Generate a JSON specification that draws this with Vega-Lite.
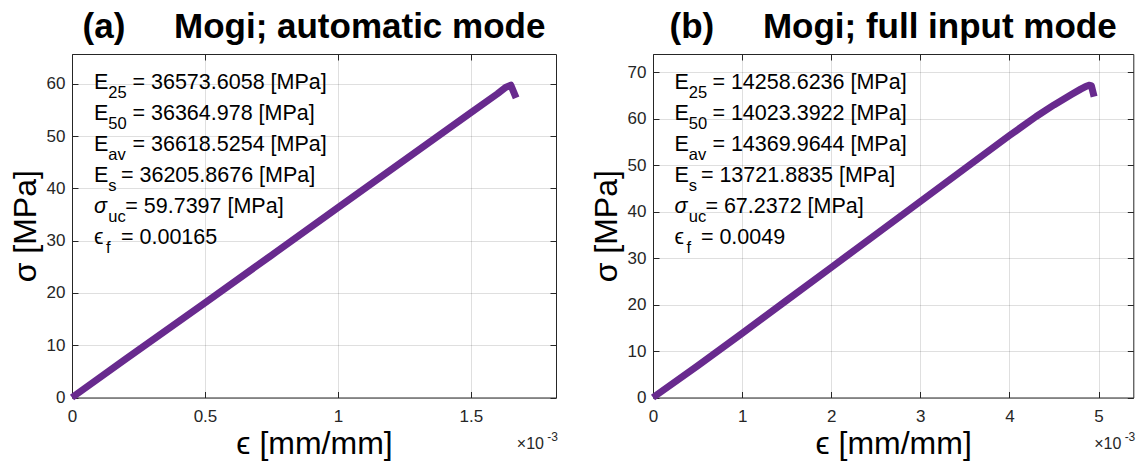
{
  "$schema": "https://vega.github.io/schema/vega-lite/v6.json",
  "background": "white",
  "padding": {"left": 8, "top": 9, "right": 4, "bottom": 0},
  "spacing": 30,
  "config": {
    "font": "Liberation Sans",
    "view": {"stroke": "#262626", "strokeWidth": 1},
    "axis": {
      "domain": false,
      "grid": true,
      "gridColor": "#262626",
      "gridOpacity": 0.15,
      "gridWidth": 1,
      "tickColor": "#262626",
      "tickSize": -6,
      "labelPadding": 13,
      "labelColor": "#262626",
      "labelFontSize": 17,
      "labelFlush": false,
      "labelOverlap": false,
      "titleFontSize": 32,
      "titleFontWeight": "normal",
      "titleColor": "#000000",
      "titleFont": "Liberation Sans"
    },
    "title": {"fontSize": 35, "fontWeight": "bold", "color": "#000000", "anchor": "middle", "offset": 9, "font": "Liberation Sans"},
    "text": {"color": "#000000", "align": "left", "baseline": "alphabetic"}
  },
  "datasets": {
    "curveA": [
      {"strain": 0, "stress": 0},
      {"strain": 0.0002, "stress": 7.3},
      {"strain": 0.0005, "stress": 18.1},
      {"strain": 0.00075, "stress": 27.2},
      {"strain": 0.001, "stress": 36.3},
      {"strain": 0.00125, "stress": 45.4},
      {"strain": 0.0015, "stress": 54.5},
      {"strain": 0.0016, "stress": 58.1},
      {"strain": 0.00163, "stress": 59.3},
      {"strain": 0.00165, "stress": 59.74},
      {"strain": 0.00167, "stress": 57.3}
    ],
    "curveB": [
      {"strain": 0, "stress": 0},
      {"strain": 0.0005, "stress": 6.8},
      {"strain": 0.001, "stress": 13.8},
      {"strain": 0.0015, "stress": 20.9},
      {"strain": 0.002, "stress": 28.0},
      {"strain": 0.0025, "stress": 35.1},
      {"strain": 0.003, "stress": 42.2},
      {"strain": 0.0035, "stress": 49.3},
      {"strain": 0.004, "stress": 56.4},
      {"strain": 0.0043, "stress": 60.5},
      {"strain": 0.0045, "stress": 63.0},
      {"strain": 0.0047, "stress": 65.3},
      {"strain": 0.0048, "stress": 66.4},
      {"strain": 0.00486, "stress": 67.0},
      {"strain": 0.0049, "stress": 67.24},
      {"strain": 0.00492, "stress": 67.1},
      {"strain": 0.00495, "stress": 64.8}
    ],
    "textA": [
      {"line": 1, "sym": "E", "sub": "25", "rest": "= 36573.6058 [MPa]"},
      {"line": 2, "sym": "E", "sub": "50", "rest": "= 36364.978 [MPa]"},
      {"line": 3, "sym": "E", "sub": "av", "rest": "= 36618.5254 [MPa]"},
      {"line": 4, "sym": "E", "sub": "s", "rest": "= 36205.8676 [MPa]"},
      {"line": 5, "sym": "σ", "sub": "uc", "rest": "= 59.7397 [MPa]"},
      {"line": 6, "sym": "ϵ", "sub": "f", "rest": "= 0.00165"}
    ],
    "textB": [
      {"line": 1, "sym": "E", "sub": "25", "rest": "= 14258.6236 [MPa]"},
      {"line": 2, "sym": "E", "sub": "50", "rest": "= 14023.3922 [MPa]"},
      {"line": 3, "sym": "E", "sub": "av", "rest": "= 14369.9644 [MPa]"},
      {"line": 4, "sym": "E", "sub": "s", "rest": "= 13721.8835 [MPa]"},
      {"line": 5, "sym": "σ", "sub": "uc", "rest": "= 67.2372 [MPa]"},
      {"line": 6, "sym": "ϵ", "sub": "f", "rest": "= 0.0049"}
    ]
  },
  "hconcat": [
    {
      "width": 484,
      "height": 343.5,
      "title": {"text": "(a)\u00a0\u00a0\u00a0\u00a0\u00a0Mogi; automatic mode"},
      "resolve": {"scale": {"y": "independent"}, "axis": {"x": "independent", "y": "independent"}},
      "layer": [
        {
          "data": {"name": "curveA"},
          "mark": {"type": "line", "color": "#682a8e", "strokeWidth": 7, "strokeCap": "butt", "strokeJoin": "round", "clip": false},
          "encoding": {
            "x": {"field": "strain", "type": "quantitative", "scale": {"domain": [0, 0.00182], "nice": false},
              "axis": {"values": [0, 0.0005, 0.001, 0.0015], "labelExpr": "format(datum.value*1000, '.1~f')", "title": "ϵ [mm/mm]", "labelPadding": 17, "titlePadding": 4}},
            "y": {"field": "stress", "type": "quantitative", "scale": {"domain": [0, 65.7], "nice": false},
              "axis": {"values": [0, 10, 20, 30, 40, 50, 60], "title": "σ [MPa]", "titlePadding": 4}}
          }
        },
        {
          "data": {"name": "curveA"},
          "mark": {"type": "line", "opacity": 0},
          "encoding": {
            "x": {"field": "strain", "type": "quantitative", "scale": {"domain": [0, 0.00182], "nice": false},
              "axis": {"orient": "top", "values": [0, 0.0005, 0.001, 0.0015], "labels": false, "grid": false, "title": null}},
            "y": {"field": "stress", "type": "quantitative", "scale": {"domain": [0, 65.7], "nice": false},
              "axis": {"orient": "right", "values": [0, 10, 20, 30, 40, 50, 60], "labels": false, "grid": false, "title": null}}
          }
        },
        {
          "data": {"name": "textA"},
          "transform": [{"filter": "datum.line != 5"}],
          "mark": {"type": "text", "fontSize": 21.5},
          "encoding": {
            "x": {"datum": 0.0000826, "type": "quantitative", "axis": null},
            "y": {"field": "line", "type": "quantitative", "scale": {"domain": [-0.139, 10.942], "reverse": true}, "axis": null},
            "text": {"field": "sym"}
          }
        },
        {
          "data": {"name": "textA"},
          "transform": [{"filter": "datum.line == 5"}],
          "mark": {"type": "text", "fontSize": 21.5, "fontStyle": "italic"},
          "encoding": {
            "x": {"datum": 0.0000826, "type": "quantitative", "axis": null},
            "y": {"field": "line", "type": "quantitative", "scale": {"domain": [-0.139, 10.942], "reverse": true}, "axis": null},
            "text": {"field": "sym"}
          }
        },
        {
          "data": {"name": "textA"},
          "transform": [{"filter": "datum.line != 6"}],
          "mark": {"type": "text", "fontSize": 16.5, "dx": 14.4, "dy": 8.4},
          "encoding": {
            "x": {"datum": 0.0000826, "type": "quantitative", "axis": null},
            "y": {"field": "line", "type": "quantitative", "scale": {"domain": [-0.139, 10.942], "reverse": true}, "axis": null},
            "text": {"field": "sub"}
          }
        },
        {
          "data": {"name": "textA"},
          "transform": [{"filter": "datum.line == 6"}],
          "mark": {"type": "text", "fontSize": 16.5, "dx": 12, "dy": 8.4},
          "encoding": {
            "x": {"datum": 0.0000826, "type": "quantitative", "axis": null},
            "y": {"field": "line", "type": "quantitative", "scale": {"domain": [-0.139, 10.942], "reverse": true}, "axis": null},
            "text": {"field": "sub"}
          }
        },
        {
          "data": {"name": "textA"},
          "transform": [{"filter": "datum.line <= 3"}],
          "mark": {"type": "text", "fontSize": 21.5, "dx": 38.5},
          "encoding": {
            "x": {"datum": 0.0000826, "type": "quantitative", "axis": null},
            "y": {"field": "line", "type": "quantitative", "scale": {"domain": [-0.139, 10.942], "reverse": true}, "axis": null},
            "text": {"field": "rest"}
          }
        },
        {
          "data": {"name": "textA"},
          "transform": [{"filter": "datum.line == 4 || datum.line == 6"}],
          "mark": {"type": "text", "fontSize": 21.5, "dx": 27},
          "encoding": {
            "x": {"datum": 0.0000826, "type": "quantitative", "axis": null},
            "y": {"field": "line", "type": "quantitative", "scale": {"domain": [-0.139, 10.942], "reverse": true}, "axis": null},
            "text": {"field": "rest"}
          }
        },
        {
          "data": {"name": "textA"},
          "transform": [{"filter": "datum.line == 5"}],
          "mark": {"type": "text", "fontSize": 21.5, "dx": 31.3},
          "encoding": {
            "x": {"datum": 0.0000826, "type": "quantitative", "axis": null},
            "y": {"field": "line", "type": "quantitative", "scale": {"domain": [-0.139, 10.942], "reverse": true}, "axis": null},
            "text": {"field": "rest"}
          }
        },
        {
          "data": {"values": [{}]},
          "mark": {"type": "text", "align": "right", "fontSize": 16, "dy": 51, "dx": -12, "color": "#262626"},
          "encoding": {
            "x": {"datum": 0.00182, "type": "quantitative", "axis": null},
            "y": {"datum": 0, "type": "quantitative", "scale": {"domain": [0, 65.7], "nice": false}, "axis": null},
            "text": {"value": "×10"}
          }
        },
        {
          "data": {"values": [{}]},
          "mark": {"type": "text", "align": "right", "fontSize": 12, "dy": 43, "dx": 2, "color": "#262626"},
          "encoding": {
            "x": {"datum": 0.00182, "type": "quantitative", "axis": null},
            "y": {"datum": 0, "type": "quantitative", "scale": {"domain": [0, 65.7], "nice": false}, "axis": null},
            "text": {"value": "-3"}
          }
        }
      ]
    },
    {
      "width": 480.3,
      "height": 343.5,
      "title": {"text": "(b)\u00a0\u00a0\u00a0\u00a0\u00a0Mogi; full input mode"},
      "resolve": {"scale": {"y": "independent"}, "axis": {"x": "independent", "y": "independent"}},
      "layer": [
        {
          "data": {"name": "curveB"},
          "mark": {"type": "line", "color": "#682a8e", "strokeWidth": 7, "strokeCap": "butt", "strokeJoin": "round", "clip": false},
          "encoding": {
            "x": {"field": "strain", "type": "quantitative", "scale": {"domain": [0, 0.00539], "nice": false},
              "axis": {"values": [0, 0.001, 0.002, 0.003, 0.004, 0.005], "labelExpr": "format(datum.value*1000, '.1~f')", "title": "ϵ [mm/mm]", "labelPadding": 17, "titlePadding": 4}},
            "y": {"field": "stress", "type": "quantitative", "scale": {"domain": [0, 73.96], "nice": false},
              "axis": {"values": [0, 10, 20, 30, 40, 50, 60, 70], "title": "σ [MPa]", "titlePadding": 4}}
          }
        },
        {
          "data": {"name": "curveB"},
          "mark": {"type": "line", "opacity": 0},
          "encoding": {
            "x": {"field": "strain", "type": "quantitative", "scale": {"domain": [0, 0.00539], "nice": false},
              "axis": {"orient": "top", "values": [0, 0.001, 0.002, 0.003, 0.004, 0.005], "labels": false, "grid": false, "title": null}},
            "y": {"field": "stress", "type": "quantitative", "scale": {"domain": [0, 73.96], "nice": false},
              "axis": {"orient": "right", "values": [0, 10, 20, 30, 40, 50, 60, 70], "labels": false, "grid": false, "title": null}}
          }
        },
        {
          "data": {"name": "textB"},
          "transform": [{"filter": "datum.line != 5"}],
          "mark": {"type": "text", "fontSize": 21.5},
          "encoding": {
            "x": {"datum": 0.00024, "type": "quantitative", "axis": null},
            "y": {"field": "line", "type": "quantitative", "scale": {"domain": [-0.139, 10.942], "reverse": true}, "axis": null},
            "text": {"field": "sym"}
          }
        },
        {
          "data": {"name": "textB"},
          "transform": [{"filter": "datum.line == 5"}],
          "mark": {"type": "text", "fontSize": 21.5, "fontStyle": "italic"},
          "encoding": {
            "x": {"datum": 0.00024, "type": "quantitative", "axis": null},
            "y": {"field": "line", "type": "quantitative", "scale": {"domain": [-0.139, 10.942], "reverse": true}, "axis": null},
            "text": {"field": "sym"}
          }
        },
        {
          "data": {"name": "textB"},
          "transform": [{"filter": "datum.line != 6"}],
          "mark": {"type": "text", "fontSize": 16.5, "dx": 14.4, "dy": 8.4},
          "encoding": {
            "x": {"datum": 0.00024, "type": "quantitative", "axis": null},
            "y": {"field": "line", "type": "quantitative", "scale": {"domain": [-0.139, 10.942], "reverse": true}, "axis": null},
            "text": {"field": "sub"}
          }
        },
        {
          "data": {"name": "textB"},
          "transform": [{"filter": "datum.line == 6"}],
          "mark": {"type": "text", "fontSize": 16.5, "dx": 12, "dy": 8.4},
          "encoding": {
            "x": {"datum": 0.00024, "type": "quantitative", "axis": null},
            "y": {"field": "line", "type": "quantitative", "scale": {"domain": [-0.139, 10.942], "reverse": true}, "axis": null},
            "text": {"field": "sub"}
          }
        },
        {
          "data": {"name": "textB"},
          "transform": [{"filter": "datum.line <= 3"}],
          "mark": {"type": "text", "fontSize": 21.5, "dx": 38},
          "encoding": {
            "x": {"datum": 0.00024, "type": "quantitative", "axis": null},
            "y": {"field": "line", "type": "quantitative", "scale": {"domain": [-0.139, 10.942], "reverse": true}, "axis": null},
            "text": {"field": "rest"}
          }
        },
        {
          "data": {"name": "textB"},
          "transform": [{"filter": "datum.line == 4 || datum.line == 6"}],
          "mark": {"type": "text", "fontSize": 21.5, "dx": 26.5},
          "encoding": {
            "x": {"datum": 0.00024, "type": "quantitative", "axis": null},
            "y": {"field": "line", "type": "quantitative", "scale": {"domain": [-0.139, 10.942], "reverse": true}, "axis": null},
            "text": {"field": "rest"}
          }
        },
        {
          "data": {"name": "textB"},
          "transform": [{"filter": "datum.line == 5"}],
          "mark": {"type": "text", "fontSize": 21.5, "dx": 31},
          "encoding": {
            "x": {"datum": 0.00024, "type": "quantitative", "axis": null},
            "y": {"field": "line", "type": "quantitative", "scale": {"domain": [-0.139, 10.942], "reverse": true}, "axis": null},
            "text": {"field": "rest"}
          }
        },
        {
          "data": {"values": [{}]},
          "mark": {"type": "text", "align": "right", "fontSize": 16, "dy": 51, "dx": -12, "color": "#262626"},
          "encoding": {
            "x": {"datum": 0.00539, "type": "quantitative", "axis": null},
            "y": {"datum": 0, "type": "quantitative", "scale": {"domain": [0, 73.96], "nice": false}, "axis": null},
            "text": {"value": "×10"}
          }
        },
        {
          "data": {"values": [{}]},
          "mark": {"type": "text", "align": "right", "fontSize": 12, "dy": 43, "dx": 2, "color": "#262626"},
          "encoding": {
            "x": {"datum": 0.00539, "type": "quantitative", "axis": null},
            "y": {"datum": 0, "type": "quantitative", "scale": {"domain": [0, 73.96], "nice": false}, "axis": null},
            "text": {"value": "-3"}
          }
        }
      ]
    }
  ]
}
